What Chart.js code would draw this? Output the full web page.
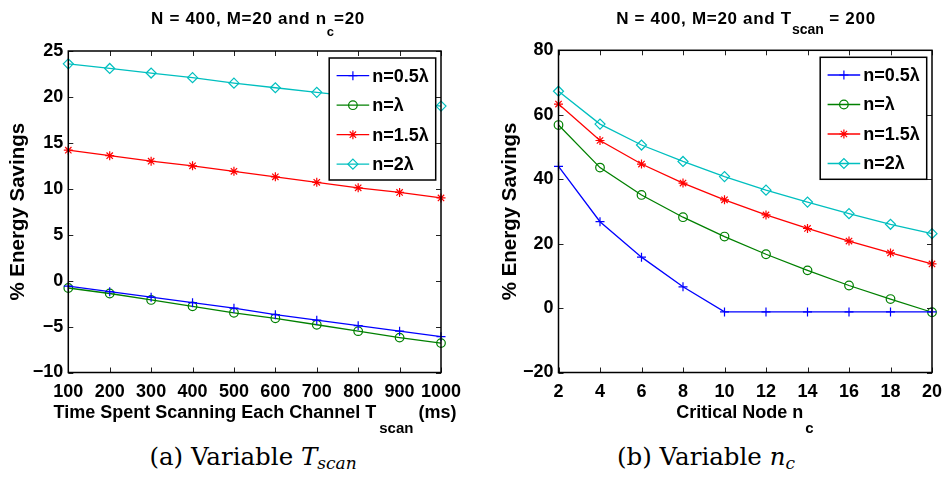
<!DOCTYPE html>
<html>
<head>
<meta charset="utf-8">
<script src="https://cdn.jsdelivr.net/npm/chart.js@4"></script>
<style>
    body { margin: 0; background: #fff; width: 943px; height: 485px; position: relative; overflow: hidden;
           font-family: "Liberation Sans", Arial, sans-serif; color: #000; }
    canvas { position: absolute; top: 0; }
    #chartA { left: 0; }
    #chartB { left: 470px; }
    .lbl { position: absolute; white-space: nowrap; text-align: center; font-weight: bold; line-height: 1; }
    .ttl { letter-spacing: 0.7px; }
    .sub { position: relative; letter-spacing: 0; }
    .cap { position: absolute; white-space: nowrap; text-align: center; line-height: 1;
           font-family: "DejaVu Serif", "Liberation Serif", serif; font-size: 24.5px; }
</style>
</head>
<body>
<canvas id="chartA" width="470" height="410"></canvas>
<canvas id="chartB" width="473" height="410"></canvas>

<div class="lbl ttl" style="left:8px; width:500px; top:10px; font-size:17px;">N = 400, M=20 and n<span class="sub" style="font-size:13px; top:12px;">c</span>=20</div>
<div class="lbl ttl" style="left:546px; width:400px; top:10px; font-size:17px;">N = 400, M=20 and T<span class="sub" style="font-size:14px; top:10px;">scan</span> = 200</div>

<div class="lbl" style="left:5px; width:500px; top:403px; font-size:18px;">Time Spent Scanning Each Channel T<span class="sub" style="font-size:15px; top:15px; margin-left:3px;">scan</span> (ms)</div>
<div class="lbl" style="left:545px; width:400px; top:403px; font-size:18px;">Critical Node n<span class="sub" style="font-size:15px; top:15px; margin-left:2px;">c</span></div>

<div class="cap" style="left:53px; width:400px; top:445px;">(a) Variable <i>T<span class="sub" style="font-size:17px; top:4px;">scan</span></i></div>
<div class="cap" style="left:506px; width:400px; top:445px;">(b) Variable <i>n<span class="sub" style="font-size:17px; top:4px;">c</span></i></div>

<script>
// x values
const tScan = [100, 200, 300, 400, 500, 600, 700, 800, 900, 1000];
const nCrit = [2, 4, 6, 8, 10, 12, 14, 16, 18, 20];
const seriesLabels = ['n=0.5λ', 'n=λ', 'n=1.5λ', 'n=2λ'];

// (a) energy savings vs T_scan
const savA_05 = [-0.6, -1.2, -1.8, -2.4, -3.0, -3.7, -4.3, -4.9, -5.5, -6.1];
const savA_1  = [-0.8, -1.4, -2.1, -2.8, -3.5, -4.1, -4.8, -5.5, -6.2, -6.8];
const savA_15 = [14.2, 13.6, 13.0, 12.5, 11.9, 11.3, 10.7, 10.1, 9.6, 9.0];
const savA_2  = [23.6, 23.1, 22.6, 22.1, 21.5, 21.0, 20.5, 20.0, 19.5, 19.0];

// (b) energy savings vs n_c
const savB_05 = [44.0, 26.8, 15.8, 6.6, -1.2, -1.2, -1.2, -1.2, -1.2, -1.2];
const savB_1  = [56.8, 43.6, 35.1, 28.2, 22.2, 16.7, 11.7, 7.0, 2.8, -1.3];
const savB_15 = [63.3, 52.0, 44.7, 38.8, 33.6, 28.9, 24.7, 20.8, 17.1, 13.7];
const savB_2  = [67.3, 57.1, 50.6, 45.5, 40.8, 36.6, 32.9, 29.3, 26.0, 23.1];

// matlab-ish look
const lineColors = ['#0000FF', '#008000', '#FF0000', '#00BFBF'];
const markers = ['cross', 'circle', 'star', 'rectRot'];
const markerSizes = [4.5, 4.3, 4.5, 5];
const tickFont = { family: '"Liberation Sans", Arial, sans-serif', size: 18, weight: 'bold' };
const yTitleFont = { family: '"Liberation Sans", Arial, sans-serif', size: 20.5, weight: 'bold' };

const minusSign = v => String(v).replace('-', '\u2212');

// box around the plot + inward ticks on all four sides
const matlabAxes = {
    id: 'matlabAxes',
    afterDatasetsDraw(chart) {
        const { ctx, chartArea: a, scales: { x, y } } = chart;
        ctx.save();
        ctx.strokeStyle = '#222';
        ctx.lineWidth = 1;
        ctx.beginPath();
        x.ticks.forEach(t => {
            const px = Math.round(x.getPixelForValue(t.value)) + 0.5;
            ctx.moveTo(px, a.bottom); ctx.lineTo(px, a.bottom - 5);
            ctx.moveTo(px, a.top); ctx.lineTo(px, a.top + 5);
        });
        y.ticks.forEach(t => {
            const py = Math.round(y.getPixelForValue(t.value)) + 0.5;
            ctx.moveTo(a.left, py); ctx.lineTo(a.left + 5, py);
            ctx.moveTo(a.right, py); ctx.lineTo(a.right - 5, py);
        });
        ctx.stroke();
        ctx.strokeStyle = '#000';
        ctx.lineWidth = 1.5;
        ctx.strokeRect(a.left, a.top, a.right - a.left, a.bottom - a.top);
        ctx.restore();
    }
};

// legend box in the upper right corner of the axes
const insideLegend = {
    id: 'insideLegend',
    afterDraw(chart) {
        const { ctx, chartArea: a } = chart;
        const w = 106.5, h = 122;
        const left = a.right - 5.3 - w;
        const top = a.top + 7;
        ctx.save();
        ctx.fillStyle = '#fff';
        ctx.fillRect(left, top, w, h);
        ctx.strokeStyle = '#000';
        ctx.lineWidth = 1.5;
        ctx.strokeRect(left, top, w, h);
        ctx.font = 'bold 18px "Liberation Sans", Arial, sans-serif';
        ctx.textBaseline = 'middle';
        chart.data.datasets.forEach((ds, i) => {
            const cy = top + 17.7 + i * 29.5;
            ctx.strokeStyle = ds.borderColor;
            ctx.lineWidth = 1.3;
            ctx.beginPath();
            ctx.moveTo(left + 7.4, cy);
            ctx.lineTo(left + 40, cy);
            ctx.stroke();
            ctx.fillStyle = 'rgba(0,0,0,0)';
            ctx.lineWidth = 1.2;
            Chart.helpers.drawPoint(ctx, { pointStyle: ds.pointStyle, radius: ds.pointRadius, rotation: 0, borderWidth: 1.2 }, left + 23.7, cy);
            ctx.fillStyle = '#000';
            ctx.fillText(ds.label, left + 43, cy + 1);
        });
        ctx.restore();
    }
};

function makeChart(id, xs, series, xr, yr, yWidth, rightPad, topPad, yTitlePad) {
    return new Chart(document.getElementById(id), {
        type: 'line',
        data: {
            datasets: series.map((vals, i) => ({
                label: seriesLabels[i],
                data: xs.map((x, j) => ({ x: x, y: vals[j] })),
                borderColor: lineColors[i],
                backgroundColor: lineColors[i],
                borderWidth: 1.3,
                pointStyle: markers[i],
                pointRadius: markerSizes[i],
                pointBorderWidth: 1.2,
                pointBorderColor: lineColors[i],
                pointBackgroundColor: 'rgba(0,0,0,0)',
                tension: 0,
                fill: false,
                clip: false
            }))
        },
        options: {
            responsive: false,
            animation: false,
            devicePixelRatio: 1,
            layout: { padding: { left: 0, right: rightPad, top: topPad, bottom: 0 } },
            plugins: { legend: { display: false }, tooltip: { enabled: false } },
            scales: {
                x: {
                    type: 'linear', min: xr[0], max: xr[1],
                    grid: { display: false, drawTicks: false },
                    border: { display: false },
                    ticks: { stepSize: xr[2], padding: 9, color: '#000', font: tickFont,
                             maxRotation: 0, autoSkip: false, callback: minusSign },
                    afterFit: s => { s.height = 410 - 372.5; s.paddingLeft = 0; s.paddingRight = 0; }
                },
                y: {
                    type: 'linear', min: yr[0], max: yr[1],
                    grid: { display: false, drawTicks: false },
                    border: { display: false },
                    ticks: { stepSize: yr[2], padding: 5, color: '#000', font: tickFont, callback: minusSign },
                    title: { display: true, text: '% Energy Savings', color: '#000', font: yTitleFont,
                             padding: { top: yTitlePad, bottom: 0 } },
                    afterFit: s => { s.width = yWidth; s.paddingTop = 0; s.paddingBottom = 0; }
                }
            }
        },
        plugins: [matlabAxes, insideLegend]
    });
}

makeChart('chartA', tScan, [savA_05, savA_1, savA_15, savA_2], [100, 1000, 100], [-10, 25, 5], 68.3, 29, 51, 6.2);
makeChart('chartB', nCrit, [savB_05, savB_1, savB_15, savB_2], [2, 20, 2], [-20, 80, 20], 88.5, 11, 50.3, 28.2);
</script>
</body>
</html>
